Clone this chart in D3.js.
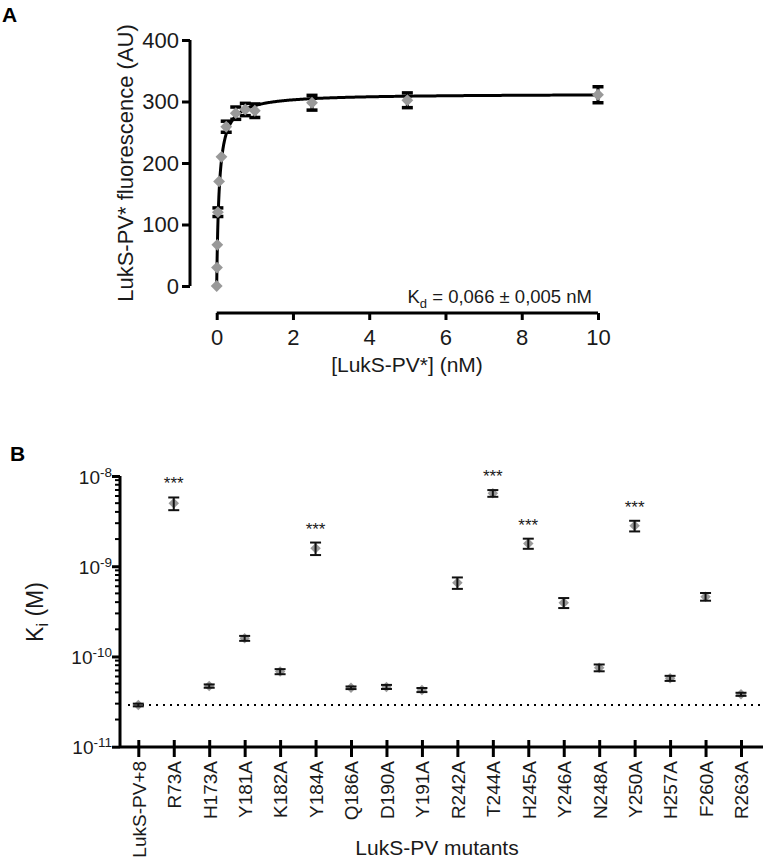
<!DOCTYPE html>
<html>
<head>
<meta charset="utf-8">
<script src="https://cdn.jsdelivr.net/npm/d3@7"></script>
<style>
  html, body { margin: 0; padding: 0; background: #fff; }
  svg { display: block; font-family: "Liberation Sans", Arial, Helvetica, sans-serif; }
</style>
</head>
<body>
<svg id="chart" width="768" height="867"></svg>
<script>
// ---------- Panel A data ----------
const concA  = [0, 0.0078, 0.0156, 0.03125, 0.0625, 0.125, 0.25, 0.5, 0.75, 1, 2.5, 5, 10];
const fluorA = [0, 30, 67, 120, 170, 210, 259, 281, 287, 285, 298, 302, 311];
const errA   = [0, 0, 0, 7, 0, 0, 9, 10, 10, 11, 12, 12, 13];
const kdA = 0.066;      // nM (from label)
const bmaxA = 312.7;    // fitted plateau
const xTicksA = [0, 2, 4, 6, 8, 10];
const yTicksA = [0, 100, 200, 300, 400];

// ---------- Panel B data ----------
const mutants = ["LukS-PV+8","R73A","H173A","Y181A","K182A","Y184A","Q186A","D190A","Y191A",
                 "R242A","T244A","H245A","Y246A","N248A","Y250A","H257A","F260A","R263A"];
const kiValues = [2.9e-11, 4.98e-9, 4.7e-11, 1.59e-10, 6.8e-11, 1.58e-9, 4.5e-11, 4.6e-11, 4.25e-11,
                  6.56e-10, 6.43e-9, 1.79e-9, 3.94e-10, 7.5e-11, 2.81e-9, 5.73e-11, 4.6e-10, 3.81e-11];
const kiErrors = [1e-12, 0.8e-9, 2e-12, 1e-11, 4.4e-12, 2.5e-10, 1.5e-12, 2.4e-12, 2.2e-12,
                  9.5e-11, 5.5e-10, 2.3e-10, 5e-11, 6.5e-12, 3.8e-10, 3.7e-12, 4.5e-11, 1.5e-12];
const significant = ["R73A","Y184A","T244A","H245A","Y250A"];
const yTicksB = [1e-11, 1e-10, 1e-9, 1e-8];
const yExpB = ["-11", "-10", "-9", "-8"];

const svg = d3.select("#chart");
const markerColor = "#999999";

// ================= Panel A =================
const gA = svg.append("g");
const xA = d3.scaleLinear().domain([0, 10]).range([216.7, 598]);
const yA = d3.scaleLinear().domain([0, 400]).range([286, 40]);

gA.append("text").attr("x", 2).attr("y", 22).attr("font-size", 21).attr("font-weight", "bold").text("A");

const yAxisA = gA.append("g").attr("transform", "translate(190,0)")
  .call(d3.axisLeft(yA).tickValues(yTicksA).tickSize(8).tickPadding(3).tickFormat(d3.format("d")));
const xAxisA = gA.append("g").attr("transform", "translate(0,313)")
  .call(d3.axisBottom(xA).tickValues(xTicksA).tickSize(7).tickPadding(9).tickFormat(d3.format("d")));
[yAxisA, xAxisA].forEach(ax => {
  ax.select(".domain").attr("stroke", "#000").attr("stroke-width", 3);
  ax.selectAll(".tick line").attr("stroke", "#000").attr("stroke-width", 3);
  ax.selectAll(".tick text").attr("font-size", 22).attr("fill", "#1a1a1a")
    .attr("font-family", "Liberation Sans, Arial, sans-serif");
});
yAxisA.select(".domain").attr("d", `M0,${yA(400)}V${yA(0)}`);
xAxisA.select(".domain").attr("d", `M${xA(0)},0H${xA(10)}`);

// fitted one-site binding curve (from Kd label)
const fitX = d3.range(0, 400).map(i => 10 * Math.pow(i / 399, 2.2));
const fitLine = d3.line().x(d => xA(d)).y(d => yA(bmaxA * d / (kdA + d)));
gA.append("path").datum(fitX).attr("d", fitLine)
  .attr("fill", "none").attr("stroke", "#000").attr("stroke-width", 3);

const ptsA = concA.map((c, i) => ({ x: c, y: fluorA[i], e: errA[i] }));
const ebA = gA.append("g");
ptsA.filter(d => d.e > 0).forEach(d => {
  const cx = xA(d.x), y1 = yA(d.y + d.e), y2 = yA(d.y - d.e);
  ebA.append("line").attr("x1", cx).attr("x2", cx).attr("y1", y1).attr("y2", y2)
    .attr("stroke", "#000").attr("stroke-width", 3);
  [y1, y2].forEach(yy => ebA.append("line").attr("x1", cx - 5.5).attr("x2", cx + 5.5)
    .attr("y1", yy).attr("y2", yy).attr("stroke", "#000").attr("stroke-width", 3.5));
});
gA.append("g").selectAll("path").data(ptsA).join("path")
  .attr("d", d3.symbol(d3.symbolSquare, 70)())
  .attr("transform", d => `translate(${xA(d.x)},${yA(d.y)}) rotate(45)`)
  .attr("fill", markerColor);

gA.append("text").attr("transform", "translate(133,163) rotate(-90)")
  .attr("text-anchor", "middle").attr("font-size", 22).attr("fill", "#1a1a1a")
  .text("LukS-PV* fluorescence (AU)");
gA.append("text").attr("x", 407).attr("y", 372).attr("text-anchor", "middle")
  .attr("font-size", 21).attr("fill", "#1a1a1a").text("[LukS-PV*] (nM)");
const kdText = gA.append("text").attr("x", 592).attr("y", 303).attr("text-anchor", "end")
  .attr("font-size", 18.5).attr("fill", "#1a1a1a");
kdText.append("tspan").text("K");
kdText.append("tspan").attr("font-size", 13).attr("dy", 5).text("d");
kdText.append("tspan").attr("dy", -5).text(" = 0,066 ± 0,005 nM");

// ================= Panel B =================
const gB = svg.append("g");
gB.append("text").attr("x", 10).attr("y", 461).attr("font-size", 21).attr("font-weight", "bold").text("B");

const xB = d3.scalePoint().domain(mutants).range([138.3, 741]);
const yB = d3.scaleLog().domain([1e-11, 1e-8]).range([746.7, 476]);

const minorVals = [];
for (let e = -11; e < -8; e++) for (let m = 2; m <= 9; m++) minorVals.push(m * Math.pow(10, e));
gB.append("g").selectAll("line").data(minorVals).join("line")
  .attr("x1", 115).attr("x2", 120).attr("y1", d => yB(d)).attr("y2", d => yB(d))
  .attr("stroke", "#000").attr("stroke-width", 2);

const yAxisB = gB.append("g").attr("transform", "translate(120,0)")
  .call(d3.axisLeft(yB).tickValues(yTicksB).tickSize(8).tickPadding(3).tickFormat(() => ""));
yAxisB.select(".domain").attr("d", `M0,${yB(1e-8)}V${yB(1e-11)}`).attr("stroke", "#000").attr("stroke-width", 3);
yAxisB.selectAll(".tick line").attr("stroke", "#000").attr("stroke-width", 3);
yAxisB.selectAll(".tick text").each(function(d, i) {
  const t = d3.select(this).attr("font-size", 19).attr("fill", "#1a1a1a").attr("dy", "0.38em")
    .attr("x", -8);
  t.append("tspan").text("10");
  t.append("tspan").attr("font-size", 13.5).attr("dy", -7).text(yExpB[i]);
});

const xAxisB = gB.append("g").attr("transform", "translate(0,747)")
  .call(d3.axisBottom(xB).tickSize(10).tickPadding(3));
xAxisB.select(".domain").attr("d", "M120,0H763").attr("stroke", "#000").attr("stroke-width", 3);
xAxisB.selectAll(".tick line").attr("y1", -7).attr("y2", 10).attr("stroke", "#000").attr("stroke-width", 3);
xAxisB.selectAll(".tick text")
  .attr("transform", "translate(0,14) rotate(-90)")
  .attr("x", 0).attr("y", 0).attr("dy", "0.36em")
  .attr("text-anchor", "end").attr("font-size", 19).attr("fill", "#1a1a1a")
  .attr("font-family", "Liberation Sans, Arial, sans-serif");

gB.append("line").attr("x1", 128).attr("x2", 763)
  .attr("y1", yB(kiValues[0])).attr("y2", yB(kiValues[0]))
  .attr("stroke", "#000").attr("stroke-width", 2.2).attr("stroke-dasharray", "2,5");

const ptsB = mutants.map((m, i) => ({ m, v: kiValues[i], e: kiErrors[i] }));
gB.append("g").selectAll("path").data(ptsB).join("path")
  .attr("d", d3.symbol(d3.symbolSquare, 55)())
  .attr("transform", d => `translate(${xB(d.m)},${yB(d.v)}) rotate(45)`)
  .attr("fill", markerColor);
const ebB = gB.append("g");
ptsB.forEach(d => {
  const cx = xB(d.m), y1 = yB(d.v + d.e), y2 = yB(d.v - d.e);
  ebB.append("line").attr("x1", cx).attr("x2", cx).attr("y1", y1).attr("y2", y2)
    .attr("stroke", "#111").attr("stroke-width", 2);
  [y1, y2].forEach(yy => ebB.append("line").attr("x1", cx - 5.5).attr("x2", cx + 5.5)
    .attr("y1", yy).attr("y2", yy).attr("stroke", "#111").attr("stroke-width", 2));
});
gB.append("g").selectAll("text").data(ptsB.filter(d => significant.includes(d.m))).join("text")
  .attr("x", d => xB(d.m)).attr("y", d => yB(d.v + d.e) - 8)
  .attr("text-anchor", "middle").attr("font-size", 17).attr("fill", "#1a1a1a").text("***");

const kiLab = gB.append("text").attr("transform", "translate(43,612) rotate(-90)")
  .attr("text-anchor", "middle").attr("font-size", 23).attr("fill", "#1a1a1a");
kiLab.append("tspan").text("K");
kiLab.append("tspan").attr("font-size", 16).attr("dy", 5).text("i");
kiLab.append("tspan").attr("dy", -5).text(" (M)");
gB.append("text").attr("x", 437).attr("y", 855).attr("text-anchor", "middle")
  .attr("font-size", 21).attr("fill", "#1a1a1a").text("LukS-PV mutants");
</script>
</body>
</html>
